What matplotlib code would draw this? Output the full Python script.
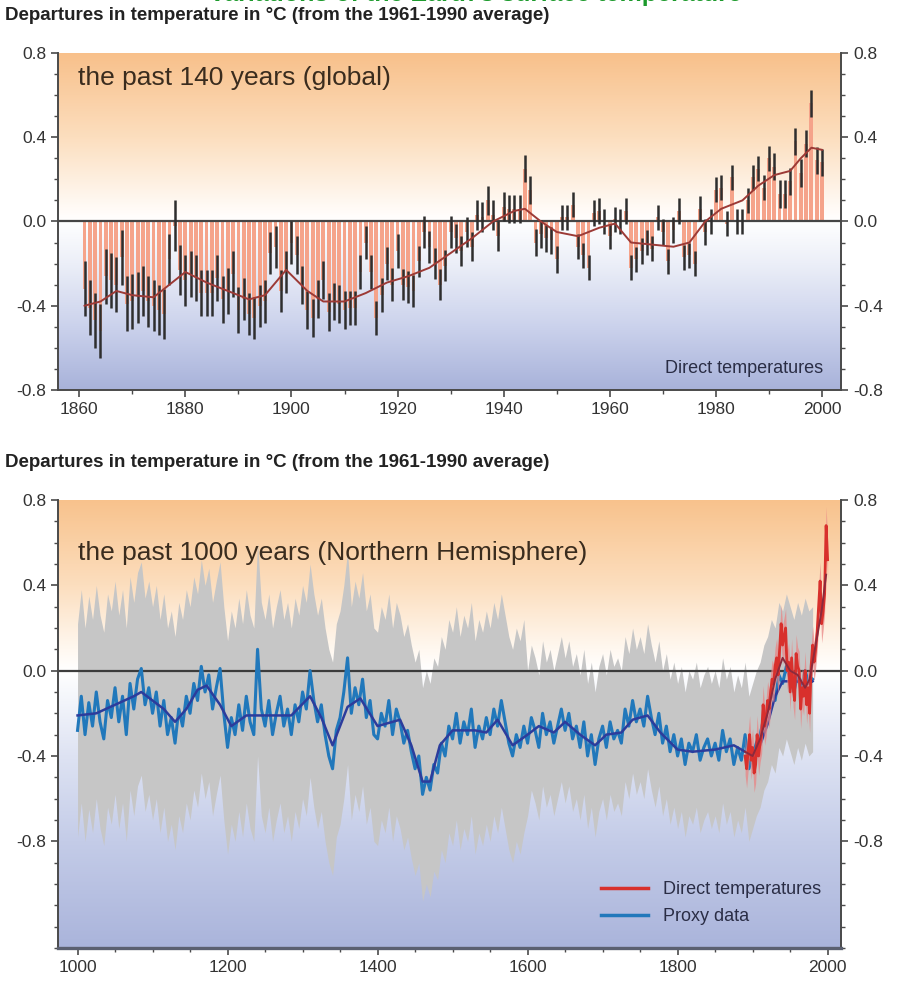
import numpy as np
import matplotlib.pyplot as plt
from matplotlib.lines import Line2D
from matplotlib.ticker import MultipleLocator

plt.rcParams['font.family'] = ['Liberation Sans', 'DejaVu Sans']

# --- the past 140 years (global), annual departures in degC ---
global_years = np.arange(1861, 2001)
global_anom = [
    -0.32, -0.41, -0.47, -0.52, -0.26, -0.28, -0.30, -0.17, -0.39, -0.38,
    -0.36, -0.33, -0.38, -0.40, -0.42, -0.44, -0.18, -0.02, -0.23, -0.28,
    -0.25, -0.27, -0.34, -0.34, -0.34, -0.27, -0.37, -0.33, -0.25, -0.42,
    -0.37, -0.44, -0.46, -0.40, -0.38, -0.15, -0.12, -0.33, -0.24, -0.10,
    -0.16, -0.30, -0.42, -0.46, -0.37, -0.28, -0.43, -0.38, -0.39, -0.42,
    -0.41, -0.41, -0.24, -0.10, -0.24, -0.46, -0.35, -0.20, -0.30, -0.14,
    -0.30, -0.31, -0.33, -0.19, -0.05, -0.12, -0.20, -0.30, -0.21, -0.05,
    -0.08, -0.14, -0.05, -0.12, 0.03, 0.02, 0.10, 0.03, -0.07, 0.07,
    0.06, 0.06, 0.06, 0.25, 0.15, -0.10, -0.06, -0.08, -0.09, -0.18,
    0.02, 0.02, 0.08, -0.12, -0.16, -0.22, 0.04, 0.05, 0.00, -0.07,
    0.01, 0.00, 0.05, -0.22, -0.18, -0.14, -0.10, -0.13, 0.02, -0.05,
    -0.19, -0.04, 0.05, -0.17, -0.16, -0.20, 0.06, -0.05, 0.00, 0.15,
    0.16, -0.01, 0.21, 0.00, 0.00, 0.10, 0.21, 0.25, 0.16, 0.30,
    0.26, 0.13, 0.13, 0.19, 0.38, 0.23, 0.37, 0.56, 0.29, 0.28,
]
# half-width of the error bars, one value per decade (1861-1870 ... 1991-2000)
global_err_decade = [0.13, 0.12, 0.11, 0.10, 0.09, 0.08, 0.075,
                     0.07, 0.065, 0.06, 0.06, 0.06, 0.06, 0.065]
global_smooth_years = [1861, 1864, 1867, 1870, 1874, 1877, 1880, 1884, 1888,
                       1892, 1895, 1899, 1903, 1906, 1910, 1914, 1918, 1922,
                       1926, 1930, 1934, 1938, 1942, 1944, 1947, 1950, 1954,
                       1958, 1961, 1964, 1968, 1972, 1975, 1978, 1981, 1985,
                       1988, 1991, 1994, 1996, 1998, 2000]
global_smooth = [-0.40, -0.38, -0.33, -0.35, -0.36, -0.30, -0.24, -0.29, -0.33,
                 -0.37, -0.35, -0.23, -0.33, -0.38, -0.38, -0.34, -0.29, -0.26,
                 -0.22, -0.15, -0.08, 0.00, 0.05, 0.06, 0.00, -0.05, -0.07,
                 -0.03, -0.01, -0.10, -0.11, -0.12, -0.10, 0.00, 0.06, 0.10,
                 0.17, 0.22, 0.24, 0.30, 0.35, 0.34]

# --- the past 1000 years (Northern Hemisphere) ---
proxy_years = np.arange(1000, 1981, 5)
proxy = [
    -0.28, -0.12, -0.30, -0.15, -0.26, -0.10, -0.24, -0.32, -0.14, -0.22,
    -0.08, -0.24, -0.12, -0.30, -0.06, -0.18, -0.04, 0.01, -0.16, -0.08,
    -0.20, -0.10, -0.26, -0.14, -0.30, -0.22, -0.34, -0.18, -0.26, -0.12,
    -0.20, -0.06, -0.14, 0.02, -0.10, -0.02, -0.18, -0.08, 0.01, -0.20,
    -0.36, -0.22, -0.30, -0.16, -0.28, -0.12, -0.24, -0.30, 0.10, -0.18,
    -0.26, -0.14, -0.30, -0.20, -0.12, -0.26, -0.18, -0.30, -0.16, -0.24,
    -0.10, -0.18, 0.00, -0.14, -0.24, -0.16, -0.30, -0.40, -0.46, -0.28,
    -0.22, -0.10, 0.06, -0.20, -0.08, -0.16, -0.04, -0.22, -0.14, -0.30,
    -0.32, -0.20, -0.26, -0.14, -0.30, -0.18, -0.24, -0.34, -0.28, -0.38,
    -0.46, -0.40, -0.58, -0.50, -0.56, -0.44, -0.48, -0.34, -0.40, -0.26,
    -0.32, -0.20, -0.34, -0.24, -0.30, -0.18, -0.36, -0.26, -0.32, -0.22,
    -0.30, -0.18, -0.26, -0.14, -0.24, -0.34, -0.40, -0.30, -0.36, -0.26,
    -0.34, -0.22, -0.28, -0.36, -0.20, -0.30, -0.24, -0.34, -0.26, -0.18,
    -0.28, -0.20, -0.32, -0.26, -0.36, -0.24, -0.40, -0.30, -0.44, -0.32,
    -0.26, -0.36, -0.24, -0.32, -0.28, -0.34, -0.18, -0.26, -0.14, -0.24,
    -0.18, -0.26, -0.12, -0.22, -0.30, -0.20, -0.34, -0.26, -0.38, -0.30,
    -0.40, -0.32, -0.44, -0.34, -0.38, -0.30, -0.42, -0.36, -0.32, -0.40,
    -0.34, -0.42, -0.28, -0.38, -0.32, -0.44, -0.36, -0.42, -0.30, -0.46,
    -0.40, -0.34, -0.30, -0.22, -0.18, -0.10, -0.14, -0.02, -0.06, 0.02,
    -0.04, -0.10, -0.02, -0.08, 0.00, -0.06, -0.04,
]
# two-sigma uncertainty of the reconstruction
proxy_2sigma_before_1600 = 0.50
proxy_2sigma_after_1600 = 0.34
proxy_smooth_years = [1000, 1025, 1050, 1075, 1085, 1100, 1115, 1130, 1145, 1160,
                      1172, 1190, 1205, 1225, 1250, 1285, 1310, 1325, 1340, 1360,
                      1377, 1400, 1430, 1445, 1460, 1470, 1483, 1500, 1530, 1545,
                      1560, 1580, 1600, 1615, 1635, 1650, 1670, 1690, 1705, 1725,
                      1740, 1760, 1777, 1800, 1820, 1850, 1875, 1890, 1900, 1910,
                      1920, 1930, 1940, 1950, 1960, 1970, 1980]
proxy_smooth = [-0.21, -0.20, -0.16, -0.12, -0.10, -0.14, -0.18, -0.24, -0.18, -0.09,
                -0.07, -0.16, -0.26, -0.21, -0.21, -0.21, -0.12, -0.22, -0.35, -0.17,
                -0.13, -0.26, -0.23, -0.35, -0.52, -0.52, -0.35, -0.28, -0.28, -0.29,
                -0.23, -0.35, -0.30, -0.26, -0.29, -0.24, -0.30, -0.35, -0.30, -0.29,
                -0.23, -0.21, -0.29, -0.37, -0.38, -0.37, -0.35, -0.38, -0.40, -0.35,
                -0.25, -0.12, -0.05, -0.05, -0.05, -0.07, -0.05]

nh_years = np.arange(1890, 2001, 2)
nh_direct = [
    -0.40, -0.46, -0.38, -0.30, -0.42, -0.36, -0.48, -0.44, -0.30, -0.40,
    -0.34, -0.30, -0.16, -0.26, -0.22, -0.14, -0.18, -0.10, -0.04, -0.06,
    0.02, 0.06, -0.02, 0.10, 0.22, 0.12, 0.16, 0.20, 0.00, 0.04,
    -0.10, 0.06, -0.08, -0.14, 0.08, 0.02, 0.00, -0.18, -0.08, -0.12,
    0.00, -0.16, -0.08, -0.20, 0.02, 0.12, 0.04, 0.10, 0.18, 0.30,
    0.42, 0.22, 0.28, 0.36, 0.68, 0.52,
]
nh_direct_err = 0.09
nh_smooth_years = [1890, 1900, 1910, 1920, 1930, 1940, 1950, 1960, 1970, 1976,
                   1985, 1992, 1998]
nh_smooth = [-0.38, -0.40, -0.32, -0.20, -0.04, 0.06, 0.00, -0.02, -0.08, -0.04,
             0.14, 0.28, 0.45]

y_label_text = 'Departures in temperature in \u00b0C (from the 1961-1990 average)'


def background(ax, stops, x0, x1, y0, y1):
    # vertical orange -> white -> blue wash behind the data
    vals = np.linspace(y1, y0, 400)
    sv = [s[0] for s in stops]
    rgb = np.stack([np.interp(vals, sv, [s[1][i] for s in stops]) for i in range(3)],
                   axis=-1) / 255.0
    ax.imshow(rgb[:, None, :], extent=[x0, x1, y0, y1], aspect='auto',
              zorder=0, interpolation='bilinear')


def style_axes(ax):
    for side in ('left', 'right', 'bottom'):
        ax.spines[side].set_color('#4a4a4a')
        ax.spines[side].set_linewidth(1.4)
    ax.spines['top'].set_visible(False)
    ax.tick_params(which='both', direction='out', colors='#4a4a4a',
                   labelcolor='#333333', labelsize=12.5, right=True, labelright=True)
    ax.tick_params(which='major', length=5, width=1.2)
    ax.tick_params(which='minor', length=3, width=1.0)
    ax.set_yticks([-0.8, -0.4, 0.0, 0.4, 0.8])
    ax.set_yticklabels(['-0.8', '-0.4', '0.0', '0.4', '0.8'])
    ax.yaxis.set_minor_locator(MultipleLocator(0.1))


fig = plt.figure(figsize=(8.97, 9.84), dpi=100)

# heading that runs off the top edge
fig.text(0.53, 1 - 1.5 / 984, "Variations of the Earth\u2019s surface temperature",
         color='#1c9a2c', fontsize=18, weight='bold', ha='center', va='baseline')

# ---------------- top panel ----------------
ax1 = fig.add_axes([0.0647, 0.6037, 0.873, 0.3425])
x0, x1 = 1856.0, 2003.6
background(ax1, [(-0.8, (168, 178, 218)), (-0.5, (203, 210, 236)),
                 (-0.2, (236, 239, 248)), (0.0, (255, 255, 255)),
                 (0.08, (255, 249, 243)), (0.4, (252, 222, 190)),
                 (0.8, (248, 192, 138))], x0, x1, -0.8, 0.8)

anom = np.array(global_anom)
err = np.repeat(global_err_decade, 10)
ax1.bar(global_years, anom, width=0.72, color='#f5a38a', zorder=2, linewidth=0)
ax1.axhline(0, color='#454545', lw=1.6, zorder=2.5)
ax1.vlines(global_years, anom - err, anom + err, color='#2e2e2e', lw=1.8, zorder=3)
ax1.plot(global_smooth_years, global_smooth, color='#9c3a36', lw=1.4, zorder=4)

ax1.set_xlim(x0, x1)
ax1.set_ylim(-0.8, 0.8)
ax1.set_xticks(np.arange(1860, 2001, 20))
ax1.xaxis.set_minor_locator(MultipleLocator(10))
style_axes(ax1)
ax1.text(0.026, 0.926, 'the past 140 years (global)', transform=ax1.transAxes,
         fontsize=19, color='#3a2c1e', va='center', ha='left')
ax1.text(0.977, 0.065, 'Direct temperatures', transform=ax1.transAxes,
         fontsize=13, color='#2a2d45', va='center', ha='right')

# ---------------- bottom panel ----------------
ax2 = fig.add_axes([0.0647, 0.0366, 0.873, 0.4553])
x0, x1 = 974.0, 2018.0
background(ax2, [(-1.3, (170, 180, 219)), (-0.8, (196, 204, 232)),
                 (-0.4, (222, 227, 243)), (0.0, (255, 255, 255)),
                 (0.1, (255, 248, 240)), (0.4, (252, 222, 190)),
                 (0.8, (248, 194, 140))], x0, x1, -1.3, 0.8)

prox = np.array(proxy)
sigma = np.where(proxy_years < 1600, proxy_2sigma_before_1600, proxy_2sigma_after_1600)
ax2.fill_between(proxy_years, prox - sigma, prox + sigma, color='#c6c6c6',
                 lw=0, zorder=2)
ax2.axhline(0, color='#3c3c3c', lw=1.6, zorder=2.5)
ax2.plot(proxy_years, prox, color='#2178bb', lw=2.2, zorder=4)
ax2.plot(proxy_smooth_years, proxy_smooth, color='#2c3c9c', lw=1.8, zorder=5)

nh = np.array(nh_direct)
ax2.fill_between(nh_years, nh - nh_direct_err, nh + nh_direct_err, color='#e98585',
                 alpha=0.75, lw=0, zorder=6)
ax2.plot(nh_years, nh, color='#d8302c', lw=2.0, zorder=7)
ax2.plot(nh_smooth_years, nh_smooth, color='#8c2a3c', lw=1.4, zorder=8)

ax2.set_xlim(x0, x1)
ax2.set_ylim(-1.3, 0.8)
ax2.set_xticks(np.arange(1000, 2001, 200))
ax2.xaxis.set_minor_locator(MultipleLocator(50))
style_axes(ax2)
ax2.spines['bottom'].set_linewidth(2.4)
ax2.spines['bottom'].set_color('#5b6070')
ax2.text(0.026, 0.882, 'the past 1000 years (Northern Hemisphere)',
         transform=ax2.transAxes, fontsize=19, color='#3a2c1e', va='center', ha='left')

handles = [Line2D([], [], color='#d8302c', lw=2.5),
           Line2D([], [], color='#2178bb', lw=2.5)]
ax2.legend(handles, ['Direct temperatures', 'Proxy data'], loc='lower right',
           bbox_to_anchor=(0.995, 0.015), frameon=False, fontsize=13,
           handlelength=2.6, labelspacing=0.55, labelcolor='#2a2d45')

fig.text(5 / 897, 1 - 15 / 984, y_label_text, fontsize=13.5, weight='bold',
         color='#222222', va='center', ha='left')
fig.text(5 / 897, 1 - 463 / 984, y_label_text, fontsize=13.5, weight='bold',
         color='#222222', va='center', ha='left')

fig.savefig('out.png', dpi=100)
